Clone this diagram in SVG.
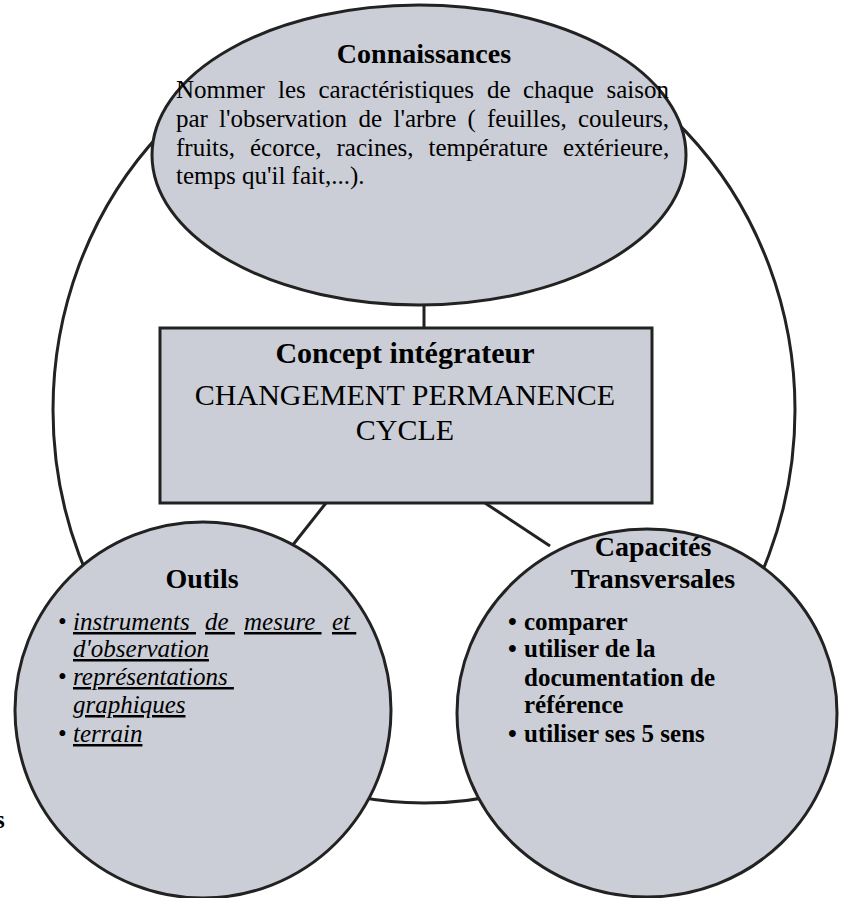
<svg xmlns="http://www.w3.org/2000/svg" width="841" height="898" viewBox="0 0 841 898">
<style>
.shape{fill:#cbced6;stroke:#222;stroke-width:3}
.conn{fill:none;stroke:#222;stroke-width:3}
text{font-family:"Liberation Serif","Times New Roman",serif;fill:#000}
.h{font-weight:bold;font-size:28px;text-anchor:middle}
.b{font-size:25px}
.it{font-size:25px;font-style:italic;text-decoration:underline}
.bb{font-size:25px;font-weight:bold}
</style>
<rect width="841" height="898" fill="#fff"/>
<g id="connectors">
<ellipse class="conn" cx="424" cy="410" rx="371" ry="393"/>
<line class="conn" x1="424" y1="300" x2="424" y2="330"/>
<line class="conn" x1="326" y1="503" x2="292" y2="546"/>
<line class="conn" x1="485" y1="503" x2="550" y2="546"/>
</g>
<g id="connaissances">
<ellipse class="shape" cx="419" cy="155" rx="267" ry="150"/>
<text class="h" x="424" y="63">Connaissances</text>
<text class="b" y="98"><tspan x="176">Nommer</tspan><tspan x="278">les</tspan><tspan x="318.5">caractéristiques</tspan><tspan x="487">de</tspan><tspan x="523">chaque</tspan><tspan x="606.5">saison</tspan></text>
<text class="b" y="127"><tspan x="176">par</tspan><tspan x="219">l'observation</tspan><tspan x="358.5">de</tspan><tspan x="393.5">l'arbre</tspan><tspan x="467.5">(</tspan><tspan x="487">feuilles,</tspan><tspan x="578">couleurs,</tspan></text>
<text class="b" y="156"><tspan x="176">fruits,</tspan><tspan x="250">écorce,</tspan><tspan x="336.5">racines,</tspan><tspan x="428.5">température</tspan><tspan x="563">extérieure,</tspan></text>
<text class="b" x="176" y="184">temps qu'il fait,...).</text>
</g>
<g id="concept">
<rect class="shape" x="160" y="328" width="492" height="175"/>
<text class="h" x="405" y="363" style="font-size:30px">Concept intégrateur</text>
<text class="b" x="405" y="405" style="font-size:30px;text-anchor:middle">CHANGEMENT PERMANENCE</text>
<text class="b" x="405" y="440" style="font-size:30px;text-anchor:middle">CYCLE</text>
</g>
<g id="outils">
<circle class="shape" cx="203" cy="710" r="188"/>
<text class="h" x="202" y="588">Outils</text>
<text class="b" x="58" y="630">•</text>
<text class="b" x="58" y="685">•</text>
<text class="b" x="58" y="742">•</text>
<text class="it" xml:space="preserve" x="73" y="630">instruments </text>
<text class="it" xml:space="preserve" x="205" y="630">de </text>
<text class="it" xml:space="preserve" x="244" y="630">mesure </text>
<text class="it" xml:space="preserve" x="332" y="630">et </text>
<text class="it" x="73" y="657">d'observation</text>
<text class="it" xml:space="preserve" x="73" y="685">représentations </text>
<text class="it" x="73" y="713">graphiques</text>
<text class="it" x="73" y="742">terrain</text>
</g>
<g id="capacites">
<ellipse class="shape" cx="647" cy="713" rx="190" ry="184"/>
<text class="h" x="653" y="556">Capacités</text>
<text class="h" x="653" y="588">Transversales</text>
<text class="bb" x="508" y="630">•</text>
<text class="bb" x="508" y="657">•</text>
<text class="bb" x="508" y="742">•</text>
<text class="bb" x="524" y="630">comparer</text>
<text class="bb" x="524" y="657">utiliser de la</text>
<text class="bb" x="524" y="686">documentation de</text>
<text class="bb" x="524" y="713">référence</text>
<text class="bb" x="524" y="742">utiliser ses 5 sens</text>
</g>
<text class="bb" x="-5" y="828">s</text>
</svg>
